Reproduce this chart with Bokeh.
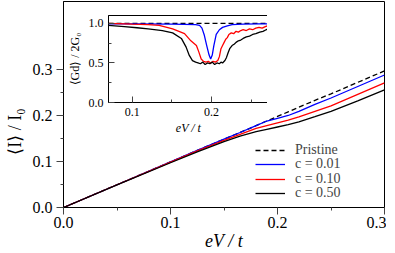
from bokeh.plotting import figure
from bokeh.layouts import column
from bokeh.models import FixedTicker, Legend, LegendItem, PrintfTickFormatter
from bokeh.embed import file_html
from bokeh.resources import INLINE

# ---- main panel data: <I>/I0 vs eV/t ----
x_main = [0.0, 0.05, 0.10, 0.125, 0.15, 0.165, 0.18, 0.19, 0.20, 0.21, 0.22, 0.235, 0.25, 0.275, 0.30]
i_pristine = [0.0, 0.0495, 0.099, 0.124, 0.1485, 0.163, 0.178, 0.188, 0.198, 0.208, 0.218, 0.233, 0.247, 0.272, 0.297]
i_c001 = [0.0, 0.0495, 0.099, 0.124, 0.1485, 0.163, 0.178, 0.188, 0.194, 0.200, 0.209, 0.224, 0.238, 0.263, 0.288]
i_c010 = [0.0, 0.0495, 0.0985, 0.123, 0.146, 0.159, 0.172, 0.178, 0.184, 0.190, 0.197, 0.209, 0.221, 0.246, 0.271]
i_c050 = [0.0, 0.049, 0.0973, 0.1208, 0.1431, 0.1553, 0.1648, 0.1699, 0.175, 0.1801, 0.1859, 0.1973, 0.209, 0.232, 0.2558]

# ---- inset data: <Gd>/2G0 vs eV/t ----
gx_pristine = [0.07, 0.272]
g_pristine = [1.0, 1.0]

gx_c001 = [0.07, 0.10, 0.15, 0.18, 0.185, 0.188, 0.191, 0.194, 0.197, 0.199, 0.201, 0.203,
           0.206, 0.210, 0.214, 0.220, 0.226, 0.24, 0.26, 0.272]
g_c001 = [0.995, 0.995, 0.99, 0.985, 0.975, 0.94, 0.85, 0.72, 0.60, 0.55, 0.60, 0.72,
          0.86, 0.92, 0.95, 0.97, 0.985, 0.99, 0.995, 0.995]

gx_c010 = [0.07, 0.10, 0.12, 0.134, 0.151, 0.166, 0.174, 0.181, 0.184, 0.187, 0.190, 0.193,
           0.196, 0.199, 0.202, 0.205, 0.208, 0.210, 0.212, 0.214, 0.216, 0.218, 0.220,
           0.222, 0.225, 0.228, 0.231, 0.234, 0.237, 0.240, 0.244, 0.248, 0.252, 0.256,
           0.260, 0.264, 0.268, 0.272]
g_c010 = [1.0, 0.99, 0.985, 0.975, 0.93, 0.87, 0.78, 0.72, 0.64, 0.55, 0.52, 0.51,
          0.52, 0.50, 0.52, 0.51, 0.53, 0.58, 0.68, 0.72, 0.76, 0.80, 0.82,
          0.86, 0.88, 0.87, 0.90, 0.89, 0.91, 0.92, 0.91, 0.93, 0.92, 0.94,
          0.95, 0.94, 0.96, 0.975]

gx_c050 = [0.07, 0.09, 0.106, 0.12, 0.138, 0.151, 0.162, 0.168, 0.172, 0.176, 0.180, 0.183,
           0.186, 0.189, 0.192, 0.195, 0.198, 0.201, 0.204, 0.207, 0.210, 0.212, 0.214,
           0.217, 0.219, 0.221, 0.223, 0.226, 0.229, 0.231, 0.234, 0.237, 0.240, 0.244,
           0.248, 0.252, 0.256, 0.261, 0.265, 0.269, 0.272]
g_c050 = [0.975, 0.96, 0.945, 0.93, 0.91, 0.88, 0.81, 0.70, 0.595, 0.53, 0.51, 0.50,
          0.49, 0.51, 0.48, 0.50, 0.49, 0.51, 0.48, 0.50, 0.49, 0.51, 0.50,
          0.53, 0.57, 0.63, 0.68, 0.72, 0.74, 0.76, 0.78, 0.79, 0.81, 0.83,
          0.84, 0.86, 0.87, 0.89, 0.90, 0.92, 0.93]

legend_labels = ["Pristine", "c = 0.01", "c = 0.10", "c = 0.50"]
main_xticks = [0.0, 0.1, 0.2, 0.3]
main_xminor = [0.05, 0.15, 0.25]
main_yticks = [0.0, 0.1, 0.2, 0.3]
main_yminor = [0.05, 0.15, 0.25]
inset_xticks = [0.1, 0.2]
inset_xminor = [0.15, 0.25]
inset_yticks = [0.0, 0.5, 1.0]
inset_yminor = [0.25, 0.75]

FONT = "Liberation Serif"
BLUE = "#0000ff"
RED = "#ff0000"

# ---------------- inset ----------------
INS_TOP, INS_LEFT, INS_BOTTOM = 10, 55, 45
ins = figure(frame_width=160, frame_height=87, x_range=(0.07, 0.272), y_range=(0.0, 1.1),
             output_backend="svg", toolbar_location=None,
             min_border_left=INS_LEFT, min_border_right=6,
             min_border_top=INS_TOP, min_border_bottom=INS_BOTTOM)
ins.margin = (5, 0, 0, 109 - 8 - INS_LEFT)
ins.grid.visible = False
ins.outline_line_color = "black"
ins.outline_line_width = 1
ins.border_fill_alpha = 0
ins.background_fill_color = "white"

ins.line(gx_pristine, g_pristine, line_color="black", line_dash="5 3", line_width=1.2)
ins.line(gx_c001, g_c001, line_color=BLUE, line_width=1.3)
ins.line(gx_c010, g_c010, line_color=RED, line_width=1.3)
ins.line(gx_c050, g_c050, line_color="black", line_width=1.3)

ins.xaxis.ticker = FixedTicker(ticks=inset_xticks, minor_ticks=inset_xminor)
ins.yaxis.ticker = FixedTicker(ticks=inset_yticks, minor_ticks=inset_yminor)
ins.xaxis.formatter = PrintfTickFormatter(format="%.1f")
ins.yaxis.formatter = PrintfTickFormatter(format="%.1f")
for ax in (ins.xaxis[0], ins.yaxis[0]):
    ax.major_tick_in = 6
    ax.major_tick_out = 0
    ax.minor_tick_in = 3
    ax.minor_tick_out = 0
    ax.axis_line_color = "black"
    ax.major_tick_line_color = "#444444"
    ax.minor_tick_line_color = "#444444"
    ax.major_label_text_font = FONT
    ax.major_label_text_font_size = "12px"
    ax.major_label_text_color = "black"
    ax.axis_label_text_font = FONT
    ax.axis_label_text_font_size = "12px"
    ax.axis_label_text_color = "black"
ins.xaxis.major_label_standoff = 5
ins.yaxis.major_label_standoff = 5
ins.xaxis.axis_label = "eV / t"
ins.xaxis.axis_label_text_font_style = "italic"
ins.xaxis.axis_label_standoff = 2
ins.yaxis.axis_label = "⟨Gd⟩ / 2G₀"
ins.yaxis.axis_label_text_font_style = "normal"
ins.yaxis.axis_label_standoff = 4

# ---------------- main ----------------
M_TOP, M_LEFT = 10, 60
p = figure(frame_width=321, frame_height=206, x_range=(0.0, 0.3), y_range=(0.0, 0.4478),
           output_backend="svg", toolbar_location=None,
           min_border_left=M_LEFT, min_border_right=2, min_border_top=M_TOP, min_border_bottom=30)
p.margin = (-156, 0, -30, 1)
p.grid.visible = False
p.outline_line_color = "black"
p.outline_line_width = 1
p.background_fill_alpha = 0
p.border_fill_alpha = 0

r0 = p.line(x_main, i_pristine, line_color="black", line_dash="5 3", line_width=1.3)
r1 = p.line(x_main, i_c001, line_color=BLUE, line_width=1.3)
r2 = p.line(x_main, i_c010, line_color=RED, line_width=1.3)
r3 = p.line(x_main, i_c050, line_color="black", line_width=1.3)

p.xaxis.ticker = FixedTicker(ticks=main_xticks, minor_ticks=main_xminor)
p.yaxis.ticker = FixedTicker(ticks=main_yticks, minor_ticks=main_yminor)
p.xaxis.formatter = PrintfTickFormatter(format="%.1f")
p.yaxis.formatter = PrintfTickFormatter(format="%.1f")
for ax in (p.xaxis[0], p.yaxis[0]):
    ax.major_tick_in = 0
    ax.major_tick_out = 7
    ax.minor_tick_in = 0
    ax.minor_tick_out = 3
    ax.axis_line_color = "black"
    ax.major_tick_line_color = "#444444"
    ax.minor_tick_line_color = "#444444"
    ax.major_label_text_font = FONT
    ax.major_label_text_font_size = "16px"
    ax.major_label_text_color = "black"
    ax.axis_label_text_font = FONT
    ax.axis_label_text_font_size = "18px"
    ax.axis_label_text_color = "black"
p.xaxis.major_label_standoff = 2
p.yaxis.major_label_standoff = 4
p.xaxis.axis_label = "eV / t"
p.xaxis.axis_label_text_font_style = "italic"
p.xaxis.axis_label_standoff = 0
p.yaxis.axis_label = "⟨I⟩ / I₀" + "\u00a0" * 12
p.yaxis.axis_label_text_font_style = "normal"
p.yaxis.axis_label_standoff = 5

renderers = [r0, r1, r2, r3]
legend_offsets = [49, 35, 20, 6]
for lab, r, off in zip(legend_labels, renderers, legend_offsets):
    lg = Legend(items=[LegendItem(label=lab, renderers=[r])],
                location=(192, off), border_line_alpha=0, background_fill_alpha=0,
                padding=0, margin=0, spacing=0, glyph_width=30, glyph_height=10,
                label_height=10, label_standoff=10,
                label_text_font=FONT, label_text_font_size="14px",
                label_text_line_height=1.0)
    p.add_layout(lg)

layout = column(ins, p)
open("out.html", "w").write(file_html(layout, INLINE))
